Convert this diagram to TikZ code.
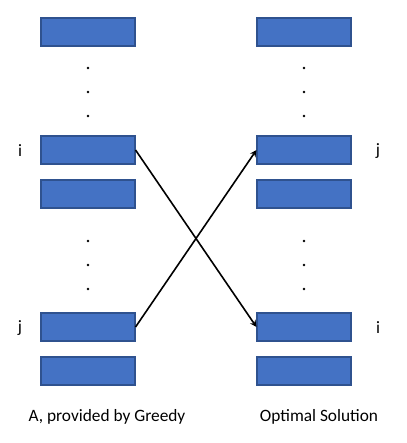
\documentclass[tikz,border=0pt]{standalone}
\usepackage{fontspec}
\setmainfont{Carlito}
\definecolor{boxblue}{HTML}{4472C4}
\definecolor{boxedge}{HTML}{2F528F}
\tikzset{
  slot/.style={draw=boxedge,fill=boxblue,line width=0.8pt,minimum width=70.5pt,minimum height=21pt,inner sep=0pt},
  dot/.style={fill=black,circle,inner sep=0pt,minimum size=2.2pt},
  link/.style={->,>=stealth,line width=1.2pt}
}
\begin{document}
\begin{tikzpicture}[x=0.75pt,y=-0.75pt,font=\fontsize{13pt}{15pt}\selectfont]
  \useasboundingbox (0,0) rectangle (407,443);
  % left column
  \node[slot] (a1) at (88,32) {};
  \node[slot] (ai) at (88,150) {};
  \node[slot] (a3) at (88,194) {};
  \node[slot] (aj) at (88,327) {};
  \node[slot] (a5) at (88,371) {};
  % right column
  \node[slot] (o1) at (304,32) {};
  \node[slot] (oj) at (304,150) {};
  \node[slot] (o3) at (304,194) {};
  \node[slot] (oi) at (304,327) {};
  \node[slot] (o5) at (304,371) {};
  % dots
  \foreach \y in {68,92,116,241,265,289} {
    \node[dot] at (88,\y) {};
    \node[dot] at (304,\y) {};
  }
  % labels
  \node (li) at (20,151) {i};
  \node (lj) at (20,328) {j};
  \node (rj) at (378,151) {j};
  \node (ri) at (378,328) {i};
  \node (capa) at (107,417) {A, provided by Greedy};
  \node (capo) at (319,417) {Optimal Solution};
  % swaps
  \draw[link] (ai.east) -- (oi.west);
  \draw[link] (aj.east) -- (oj.west);
\end{tikzpicture}
\end{document}
